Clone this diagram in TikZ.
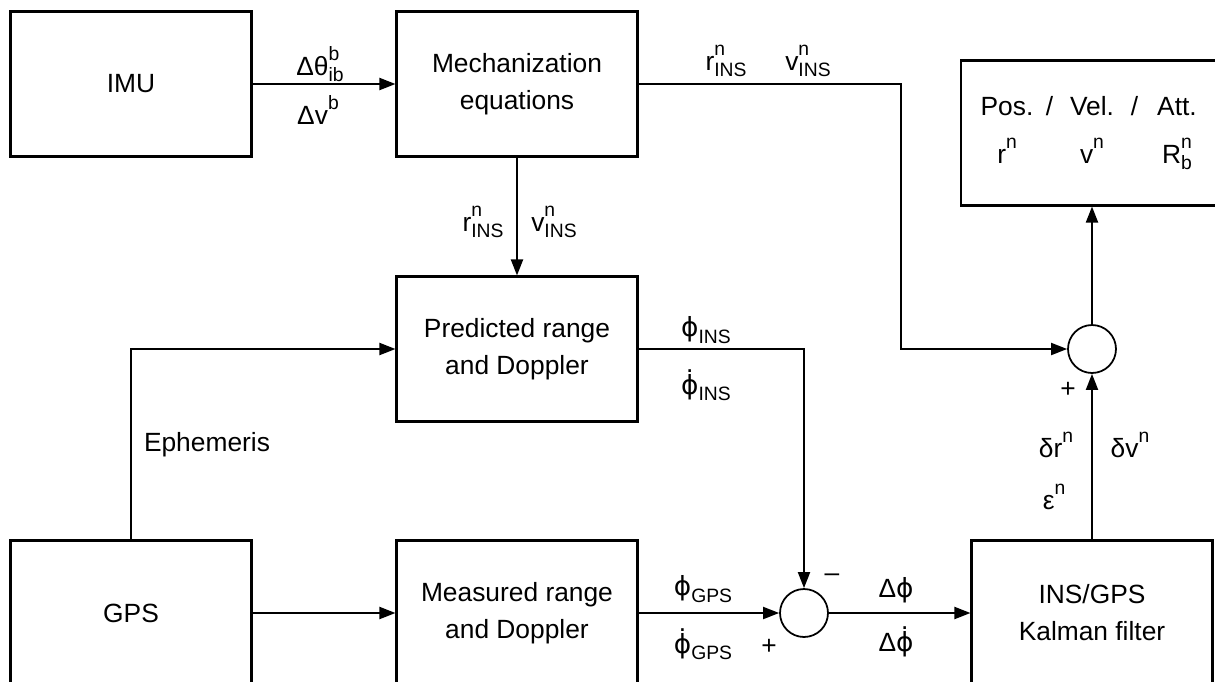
\documentclass[tikz,border=0pt]{standalone}
\usepackage{fontspec}
\setmainfont{Liberation Sans}
\newfontfamily\greekfont{DejaVu Sans}
\usetikzlibrary{arrows.meta}
\newcommand{\phig}{{\greekfont ϕ}}
\newcommand{\dotover}[1]{\leavevmode\setbox0=\hbox{#1}\vbox{\offinterlineskip\hbox to\wd0{\hss.\hss}\kern1pt\box0}}
\newcommand{\sups}[1]{\raisebox{1.05ex}{\fontsize{11}{11}\selectfont #1}}
\newcommand{\subs}[1]{\raisebox{-0.45ex}{\fontsize{11}{11}\selectfont #1}}
\newcommand{\supsub}[3]{#1\rlap{\sups{#2}}\subs{#3}}
\tikzset{
  blockbox/.style={
    draw, line width=1.2pt, minimum width=4.82cm, minimum height=2.9cm,
    align=center, inner sep=2pt
  },
  sumnode/.style={
    draw, circle, line width=1pt, minimum size=0.96cm, inner sep=0pt
  },
  sigarrow/.style={
    -{Triangle[length=0.32cm,width=0.24cm]}, line width=1.1pt
  },
  siglabel/.style={inner sep=1pt}
}
\begin{document}
\begin{tikzpicture}[x=0.02cm, y=-0.02cm, font=\fontsize{15}{21}\selectfont]
  \useasboundingbox (0,0) rectangle (1215,681);

  % Blocks
  \node[blockbox] (imu)  at (131,84)   {IMU};
  \node[blockbox] (mech) at (517,84)   {Mechanization\\equations};
  \node[blockbox] (pred) at (517,349)  {Predicted range\\and Doppler};
  \node[blockbox] (gps)  at (131,613)  {GPS};
  \node[blockbox] (meas) at (517,613)  {Measured range\\and Doppler};
  \node[blockbox] (kf)   at (1092,613) {INS/GPS\\Kalman filter};
  \node[blockbox] (out)  at (1092,133)
      {\makebox[1.7cm]{Pos.}\makebox[0pt]{/}\makebox[1.7cm]{Vel.}\makebox[0pt]{/}\makebox[1.7cm]{Att.}\\[6pt]
       \makebox[1.7cm]{r\sups{n}}\makebox[1.7cm]{v\sups{n}}\makebox[1.7cm]{\supsub{R}{n}{b}}};

  % Summing junctions
  \node[sumnode] (sumA) at (804,613)  {};
  \node[sumnode] (sumB) at (1092,349) {};
  \coordinate (bendA) at (901,349);

  % Arrows
  \draw[sigarrow] (imu) -- (mech);
  \draw[sigarrow] (mech) -- (pred);
  \draw[sigarrow] (mech.east) -| (bendA) -- (sumB);
  \draw[sigarrow] (gps.north) |- (pred.west);
  \draw[sigarrow] (pred.east) -| (sumA.north);
  \draw[sigarrow] (gps) -- (meas);
  \draw[sigarrow] (meas) -- (sumA);
  \draw[sigarrow] (sumA) -- (kf);
  \draw[sigarrow] (kf) -- (sumB);
  \draw[sigarrow] (sumB) -- (out);

  % Labels
  \node[siglabel] (lth)   at (320,64)  {Δθ\supsub{}{b}{ib}};
  \node[siglabel] (ldv)   at (318,110) {Δv\sups{b}};
  \node[siglabel] (lrt)   at (726,61)  {\supsub{r}{n}{INS}};
  \node[siglabel] (lvt)   at (808,61)  {\supsub{v}{n}{INS}};
  \node[siglabel] (lrm)   at (483,222) {\supsub{r}{n}{INS}};
  \node[siglabel] (lvm)   at (554,222) {\supsub{v}{n}{INS}};
  \node[siglabel] (lpi)   at (706,330) {\phig\subs{INS}};
  \node[siglabel] (lpdi)  at (706,385) {\dotover{\phig}\subs{INS}};
  \node[siglabel] (leph)  at (207,445) {Ephemeris};
  \node[siglabel] (lpg)   at (703,589) {\phig\subs{GPS}};
  \node[siglabel] (lpdg)  at (703,644) {\dotover{\phig}\subs{GPS}};
  \node[siglabel] (lplA)  at (769,647) {+};
  \node[siglabel] (lmiA)  at (832,578) {\textendash};
  \node[siglabel] (ldp)   at (896,590) {Δ\phig};
  \node[siglabel] (ldpd)  at (896,642) {Δ\dotover{\phig}};
  \node[siglabel] (lplB)  at (1068,390) {+};
  \node[siglabel] (ldr)   at (1056,445) {δr\sups{n}};
  \node[siglabel] (ldvn)  at (1130,445) {δv\sups{n}};
  \node[siglabel] (leps)  at (1054,497) {ε\sups{n}};
\end{tikzpicture}
\end{document}
